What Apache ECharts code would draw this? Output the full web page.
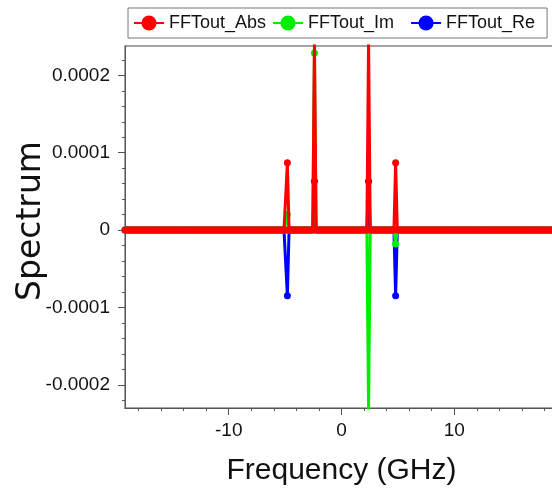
<!DOCTYPE html>
<html>
<head>
<meta charset="utf-8">
<script src="https://cdn.jsdelivr.net/npm/echarts@6/dist/echarts.min.js"></script>
<style>
  html, body { margin: 0; padding: 0; background: #fff; }
  #chart { width: 552px; height: 495px; }
</style>
</head>
<body>
<div id="chart"></div>
<script>
// FFT bins: 256 samples, 0.15 GHz apart, from -19.2 GHz
const fMin = -19.2;
const fStep = 0.15;
const nBins = 256;
const freq = Array.from({ length: nBins }, (_, i) => +(fMin + i * fStep).toFixed(2));

// bins that are not zero (GHz) and the value of each series there
const peakFreq = [-4.8, -2.4, 2.4, 4.8];
const absVals = [0.000087, 0.000245, 0.000245, 0.000087];
const imVals = [0.00002, 0.000229, -0.000235, -0.000018];
const reVals = [-0.000085, 0.000063, 0.000063, -0.000085];

// axis ticks
const xLabels = [-10, 0, 10];
const xMinor = [-18, -16, -14, -12, -8, -6, -4, -2, 2, 4, 6, 8, 12, 14, 16, 18];
const yLabels = [-0.0002, -0.0001, 0, 0.0001, 0.0002];
const yMinor = [-0.00022, -0.00018, -0.00016, -0.00014, -0.00012, -0.00008, -0.00006, -0.00004, -0.00002,
  0.00002, 0.00004, 0.00006, 0.00008, 0.00012, 0.00014, 0.00016, 0.00018, 0.00022];

const xRange = [-19.2, 19.2];
const yRange = [-0.00023, 0.000238];

function toSeries(vals) {
  return freq.map(f => {
    const k = peakFreq.indexOf(f);
    return [f, k < 0 ? 0 : vals[k]];
  });
}

const tickFont = { fontFamily: 'Liberation Sans, Arial, sans-serif', fontSize: 19, color: '#111' };

function lineSeries(name, color, vals, z) {
  return {
    name: name,
    type: 'line',
    data: toSeries(vals),
    z: z,
    symbol: 'circle',
    symbolSize: 7,
    showSymbol: true,
    showAllSymbol: true,
    clip: true,
    lineStyle: { color: color, width: 3 },
    itemStyle: { color: color },
    emphasis: { disabled: true }
  };
}

const chart = echarts.init(document.getElementById('chart'), null, { renderer: 'canvas' });

chart.setOption({
  animation: false,
  backgroundColor: '#fff',
  legend: {
    left: 128,
    top: 8,
    padding: [6, 12, 6, 5],
    itemWidth: 30,
    itemHeight: 19,
    itemGap: 6,
    borderColor: '#777',
    borderWidth: 1,
    textStyle: { fontFamily: 'Liberation Sans, Arial, sans-serif', fontSize: 18, color: '#111' },
    formatter: name => (name === 'FFTout_Im' ? name + '  ' : name),
    data: ['FFTout_Abs', 'FFTout_Im', 'FFTout_Re']
  },
  grid: {
    left: 125,
    top: 46,
    right: -6,
    bottom: 87,
    outerBoundsMode: 'none',
    containLabel: false,
    show: true,
    borderColor: '#888',
    borderWidth: 1.5
  },
  xAxis: [
    {
      type: 'value',
      min: xRange[0],
      max: xRange[1],
      position: 'bottom',
      name: 'Frequency (GHz)',
      nameLocation: 'middle',
      nameGap: 48,
      nameMoveOverlap: false,
      nameTextStyle: { fontFamily: 'Liberation Sans, Arial, sans-serif', fontSize: 30, color: '#111' },
      axisLine: { show: true, onZero: false, lineStyle: { color: '#555' } },
      axisTick: { show: true, customValues: xLabels, length: 7, lineStyle: { color: '#555' } },
      axisLabel: { customValues: xLabels, margin: 13, ...tickFont },
      splitLine: { show: false }
    },
    {
      type: 'value',
      min: xRange[0],
      max: xRange[1],
      position: 'bottom',
      axisLine: { show: false, onZero: false },
      axisTick: { show: true, customValues: xMinor, length: 3, lineStyle: { color: '#555' } },
      axisLabel: { show: false },
      splitLine: { show: false }
    }
  ],
  yAxis: [
    {
      type: 'value',
      min: yRange[0],
      max: yRange[1],
      position: 'left',
      name: 'Spectrum',
      nameLocation: 'middle',
      nameGap: 77,
      nameMoveOverlap: false,
      nameTextStyle: { fontFamily: 'DejaVu Sans, sans-serif', fontSize: 33, color: '#111', padding: [0, 0, 0, 12] },
      axisLine: { show: true, onZero: false, lineStyle: { color: '#555' } },
      axisTick: { show: true, customValues: yLabels, length: 7, lineStyle: { color: '#555' } },
      axisLabel: {
        customValues: yLabels,
        margin: 15,
        formatter: v => (v === 0 ? '0' : v.toFixed(4)),
        ...tickFont
      },
      splitLine: { show: false }
    },
    {
      type: 'value',
      min: yRange[0],
      max: yRange[1],
      position: 'left',
      axisLine: { show: false, onZero: false },
      axisTick: { show: true, customValues: yMinor, length: 3, lineStyle: { color: '#555' } },
      axisLabel: { show: false },
      splitLine: { show: false }
    }
  ],
  series: [
    lineSeries('FFTout_Abs', '#ff0000', absVals, 4),
    lineSeries('FFTout_Im', '#00ee00', imVals, 3),
    lineSeries('FFTout_Re', '#0000ff', reVals, 2)
  ]
});
</script>
</body>
</html>
